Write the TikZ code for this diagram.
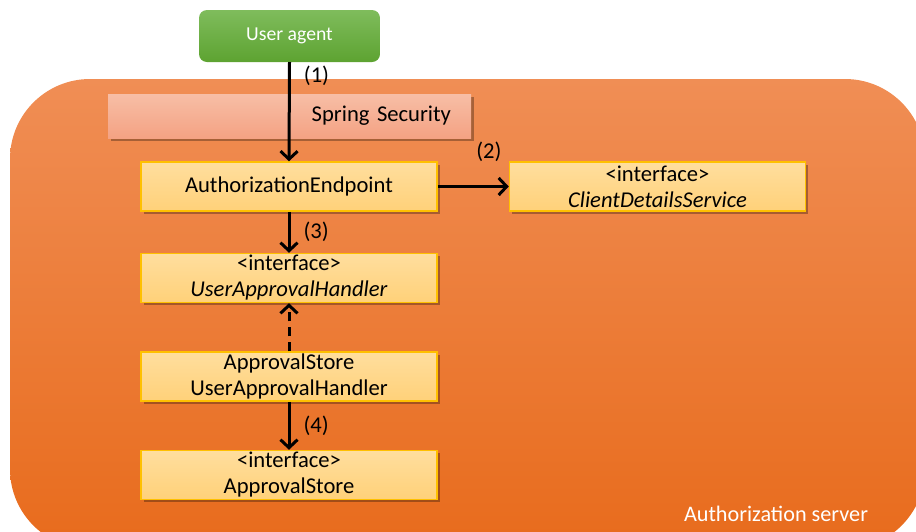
\documentclass[tikz,border=0pt]{standalone}
\usepackage{fontspec}
\setmainfont{Carlito}
\usetikzlibrary{arrows.meta,shadows}
\definecolor{srvtop}{HTML}{F08E55}
\definecolor{srvbot}{HTML}{E86B1C}
\definecolor{uatop}{HTML}{7FBC5C}
\definecolor{uabot}{HTML}{5DA331}
\definecolor{sectop}{HTML}{F7BEA6}
\definecolor{secbot}{HTML}{F4A283}
\definecolor{comptop}{HTML}{FFDE9E}
\definecolor{compbot}{HTML}{FFD179}
\definecolor{compedge}{HTML}{FFC000}
\tikzset{
  boxshadow/.style={drop shadow={shadow xshift=2.5pt,shadow yshift=-2.5pt,fill=black,opacity=.3}},
  comp/.style={draw=compedge,line width=1.5pt,top color=comptop,bottom color=compbot,
    minimum width=296pt,minimum height=49pt,inner sep=0pt,align=center,
    font=\fontsize{22.6}{26}\selectfont,boxshadow},
  flow/.style={line width=3pt,-{Straight Barb[length=8pt,width=17pt]}},
  steplbl/.style={font=\fontsize{22.6}{26}\selectfont,inner sep=0pt}
}
\begin{document}
\begin{tikzpicture}[x=1pt,y=-1pt]
\useasboundingbox (0,0) rectangle (916,531);\clip (0,0) rectangle (916,531);
% authorization server area
\shade[top color=srvtop,bottom color=srvbot,rounded corners=80pt] (10,79) rectangle (925,549);
\node[text=white,font=\fontsize{22.2}{26}\selectfont,inner sep=0pt] (srv) at (776,514){Authorization server};
% user agent and filter
\node[top color=uatop,bottom color=uabot,rounded corners=8pt,minimum width=181pt,minimum height=52pt,
  text=white,font=\fontsize{19.7}{24}\selectfont] (ua) at (289.5,36){User agent};
\node[top color=sectop,bottom color=secbot,minimum width=363pt,minimum height=44pt,inner xsep=20pt,
  text width=323pt,align=right,font=\fontsize{22.6}{26}\selectfont,boxshadow] (sec) at (289.5,116){Spring Security};
% components
\node[comp] (ae) at (289,186.5){AuthorizationEndpoint};
\node[comp] (cds) at (657.5,186.5){<interface>\\\textit{ClientDetailsService}};
\node[comp] (uah) at (289,278){<interface>\\\textit{UserApprovalHandler}};
\node[comp] (asuah) at (289,376.5){ApprovalStore\\UserApprovalHandler};
\node[comp] (as) at (289,475){<interface>\\ApprovalStore};
% flows
\draw[flow] (ua.south)--(ae.north) node[steplbl,pos=.14,right=13pt]{(1)};
\draw[flow] (ae.east)--(cds.west) node[steplbl,pos=.72,above=23pt]{(2)};
\draw[flow] (ae.south)--(uah.north) node[steplbl,midway,right=13pt]{(3)};
\draw[flow,dash pattern=on 9pt off 6pt] (asuah.north)--(uah.south);
\draw[flow] (asuah.south)--(as.north) node[steplbl,midway,right=13pt]{(4)};
\end{tikzpicture}
\end{document}
